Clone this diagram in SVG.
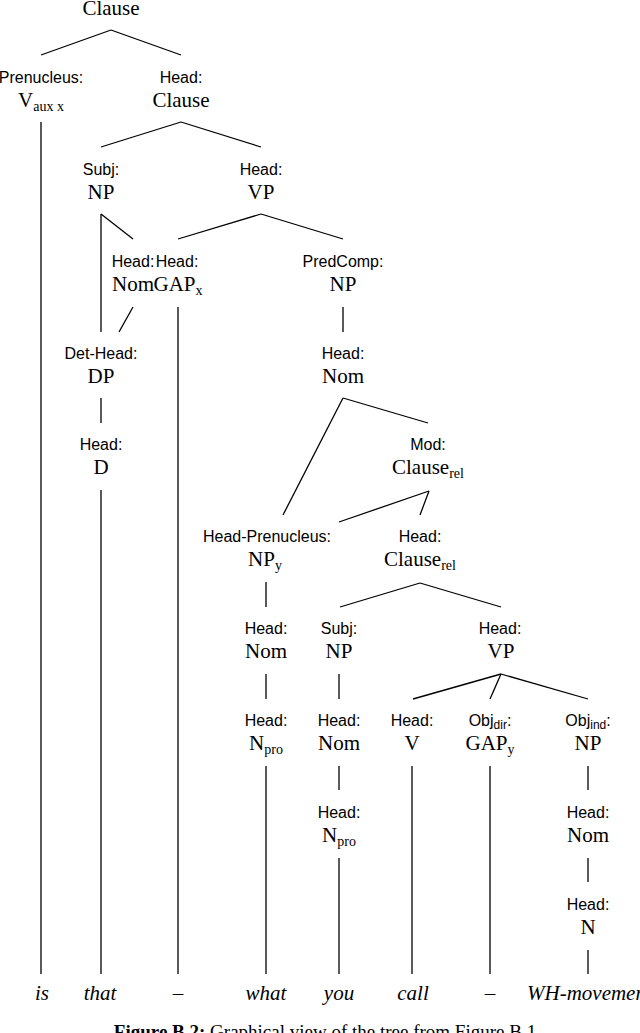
<svg xmlns="http://www.w3.org/2000/svg" width="640" height="1033" viewBox="0 0 640 1033">
<style>
.lb{font-family:"Liberation Sans",Arial,sans-serif;font-size:16px;text-anchor:middle;fill:#000}
.nm{font-family:"Liberation Serif","Times New Roman",serif;font-size:21px;text-anchor:middle;fill:#000}
.sb{font-size:14px}
.ls{font-size:12px}
.lf{font-family:"Liberation Serif","Times New Roman",serif;font-style:italic;font-size:21px;text-anchor:middle;fill:#000}
.cap{font-family:"Liberation Serif","Times New Roman",serif;font-size:19px;text-anchor:middle;fill:#000}
.e line{stroke:#000;stroke-width:1.3;fill:none}
</style>
<rect width="640" height="1033" fill="#fff"/>
<g id="connectors" class="e">
<line x1="111" y1="30" x2="41" y2="55"/>
<line x1="111" y1="30" x2="181" y2="55"/>
<line x1="41" y1="122" x2="41" y2="974"/>
<line x1="181" y1="122" x2="101" y2="147"/>
<line x1="181" y1="122" x2="261" y2="147"/>
<line x1="101" y1="214" x2="101" y2="332"/>
<line x1="101" y1="214" x2="133" y2="239"/>
<line x1="261" y1="214" x2="178" y2="239"/>
<line x1="261" y1="214" x2="343" y2="239"/>
<line x1="133" y1="307" x2="119" y2="332"/>
<line x1="178" y1="307" x2="178" y2="974"/>
<line x1="343" y1="307" x2="343" y2="332"/>
<line x1="101" y1="398" x2="101" y2="423"/>
<line x1="343" y1="398" x2="283" y2="515"/>
<line x1="343" y1="398" x2="428" y2="423"/>
<line x1="101" y1="490" x2="101" y2="974"/>
<line x1="429" y1="491" x2="339" y2="522"/>
<line x1="429" y1="491" x2="420" y2="515"/>
<line x1="266" y1="582" x2="266" y2="607"/>
<line x1="420" y1="583" x2="340" y2="607"/>
<line x1="420" y1="583" x2="501" y2="607"/>
<line x1="266" y1="674" x2="266" y2="699"/>
<line x1="339" y1="674" x2="339" y2="699"/>
<line x1="501" y1="674" x2="413" y2="699"/>
<line x1="501" y1="674" x2="490" y2="699"/>
<line x1="501" y1="674" x2="588" y2="699"/>
<line x1="266" y1="766" x2="266" y2="974"/>
<line x1="339" y1="766" x2="339" y2="790"/>
<line x1="412" y1="766" x2="412" y2="974"/>
<line x1="490" y1="766" x2="490" y2="974"/>
<line x1="588" y1="766" x2="588" y2="790"/>
<line x1="339" y1="858" x2="339" y2="974"/>
<line x1="588" y1="858" x2="588" y2="882"/>
<line x1="588" y1="950" x2="588" y2="974"/>
</g>
<g id="n0"><text class="nm" x="111" y="15">Clause</text></g>
<g id="n1"><text class="lb" x="41" y="83">Prenucleus:</text><text class="nm" x="41" y="107">V<tspan class="sb" dy="4">aux x</tspan></text></g>
<g id="n2"><text class="lb" x="181" y="83">Head:</text><text class="nm" x="181" y="107">Clause</text></g>
<g id="n3"><text class="lb" x="101" y="175">Subj:</text><text class="nm" x="101" y="199">NP</text></g>
<g id="n4"><text class="lb" x="261" y="175">Head:</text><text class="nm" x="261" y="199">VP</text></g>
<g id="n5"><text class="lb" x="133" y="267">Head:</text><text class="nm" x="133" y="291">Nom</text></g>
<g id="n6"><text class="lb" x="177" y="267">Head:</text><text class="nm" x="178" y="291">GAP<tspan class="sb" dy="4">x</tspan></text></g>
<g id="n7"><text class="lb" x="343" y="267">PredComp:</text><text class="nm" x="343" y="291">NP</text></g>
<g id="n8"><text class="lb" x="101" y="359">Det-Head:</text><text class="nm" x="101" y="383">DP</text></g>
<g id="n9"><text class="lb" x="343" y="359">Head:</text><text class="nm" x="343" y="383">Nom</text></g>
<g id="n10"><text class="lb" x="101" y="450">Head:</text><text class="nm" x="101" y="474">D</text></g>
<g id="n11"><text class="lb" x="428" y="450">Mod:</text><text class="nm" x="428" y="474">Clause<tspan class="sb" dy="4">rel</tspan></text></g>
<g id="n12"><text class="lb" x="267" y="542">Head-Prenucleus:</text><text class="nm" x="265" y="566">NP<tspan class="sb" dy="4">y</tspan></text></g>
<g id="n13"><text class="lb" x="420" y="542">Head:</text><text class="nm" x="420" y="566">Clause<tspan class="sb" dy="4">rel</tspan></text></g>
<g id="n14"><text class="lb" x="266" y="634">Head:</text><text class="nm" x="266" y="658">Nom</text></g>
<g id="n15"><text class="lb" x="339" y="634">Subj:</text><text class="nm" x="339" y="658">NP</text></g>
<g id="n16"><text class="lb" x="500" y="634">Head:</text><text class="nm" x="501" y="658">VP</text></g>
<g id="n17"><text class="lb" x="266" y="726">Head:</text><text class="nm" x="266" y="750">N<tspan class="sb" dy="4">pro</tspan></text></g>
<g id="n18"><text class="lb" x="339" y="726">Head:</text><text class="nm" x="339" y="750">Nom</text></g>
<g id="n19"><text class="lb" x="412" y="726">Head:</text><text class="nm" x="412" y="750">V</text></g>
<g id="n20"><text class="lb" x="490" y="726">Obj<tspan class="ls" dy="3">dir</tspan><tspan dy="-3">:</tspan></text><text class="nm" x="490" y="750">GAP<tspan class="sb" dy="4">y</tspan></text></g>
<g id="n21"><text class="lb" x="588" y="726">Obj<tspan class="ls" dy="3">ind</tspan><tspan dy="-3">:</tspan></text><text class="nm" x="588" y="750">NP</text></g>
<g id="n22"><text class="lb" x="339" y="818">Head:</text><text class="nm" x="339" y="842">N<tspan class="sb" dy="4">pro</tspan></text></g>
<g id="n23"><text class="lb" x="588" y="818">Head:</text><text class="nm" x="588" y="842">Nom</text></g>
<g id="n24"><text class="lb" x="588" y="910">Head:</text><text class="nm" x="588" y="934">N</text></g>
<g id="leaves">
<text class="lf" x="42" y="1000">is</text>
<text class="lf" x="100" y="1000">that</text>
<text class="lf" x="178" y="1000">–</text>
<text class="lf" x="266" y="1000">what</text>
<text class="lf" x="339" y="1000">you</text>
<text class="lf" x="413" y="1000">call</text>
<text class="lf" x="490" y="1000">–</text>
<text class="lf" x="527" y="1000" style="text-anchor:start">WH-movement</text>
</g>
<g id="caption"><text class="cap" x="325" y="1038"><tspan font-weight="bold">Figure B.2:</tspan> Graphical view of the tree from Figure B.1</text></g>
</svg>
